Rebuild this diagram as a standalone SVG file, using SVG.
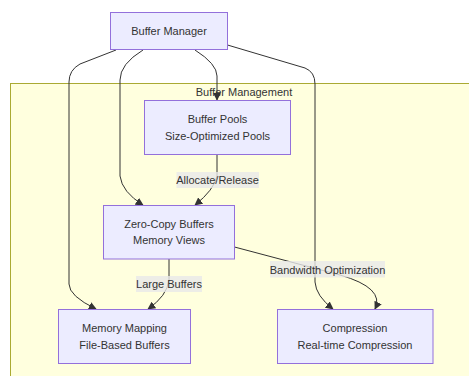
<svg xmlns="http://www.w3.org/2000/svg" width="469" height="376" viewBox="0 0 469 376">
<defs>
<style>
.node rect{fill:#ECECFF;stroke:#9370DB;stroke-width:1}
text{font-family:"Liberation Sans",Arial,sans-serif;font-size:11px;fill:#333;text-anchor:middle}
.edge{fill:none;stroke:#333;stroke-width:1;marker-end:url(#arr)}
.lbl{fill:#e8e8e8;fill-opacity:0.8}
</style>
<marker id="arr" viewBox="0 0 10 10" refX="9" refY="5" markerWidth="8" markerHeight="8" markerUnits="userSpaceOnUse" orient="auto">
<path d="M0,0 L10,5 L0,10 z" fill="#333"/>
</marker>
</defs>
<rect width="469" height="376" fill="#ffffff"/>
<g id="cluster">
<rect x="10.5" y="83.5" width="470" height="300" fill="#ffffde" stroke="#aaaa33" stroke-width="1"/>
<text x="244" y="96">Buffer Management</text>
</g>
<g id="connectors">
<path class="edge" d="M116,50 L80,64 Q69,70 69,82 L69,284 Q69,296 96,309"/>
<path class="edge" d="M143,50 Q120,64 120,80 L120,176 Q122,192 143,205"/>
<path class="edge" d="M195,50 Q217,64 217,76 L217,100"/>
<path class="edge" d="M227.5,45 L305,68 Q315,72 315,84 L315,282 Q316,296 333,309"/>
<path class="edge" d="M217,155 L217,176 Q214,190 195,205"/>
<path class="edge" d="M169,259 L169,280 Q167,296 148,309"/>
<path class="edge" d="M234.5,247 L340,275 Q385,288 375,309"/>
<rect class="lbl" x="176.5" y="172" width="82.5" height="16"/>
<text x="217.5" y="184">Allocate/Release</text>
<rect class="lbl" x="136" y="276" width="66" height="16"/>
<text x="169" y="288">Large Buffers</text>
<rect class="lbl" x="270" y="261" width="115" height="16.5"/>
<text x="327.5" y="273.5">Bandwidth Optimization</text>
</g>
<g id="buffer-manager" class="node">
<rect x="110.5" y="12.5" width="117" height="37"/>
<text x="169" y="35">Buffer Manager</text>
</g>
<g id="buffer-pools" class="node">
<rect x="144.5" y="100.5" width="146" height="54"/>
<text x="217.5" y="123">Buffer Pools</text>
<text x="217.5" y="139.5">Size-Optimized Pools</text>
</g>
<g id="zero-copy" class="node">
<rect x="103.5" y="205.5" width="131" height="53.5"/>
<text x="169" y="227.5">Zero-Copy Buffers</text>
<text x="169" y="244">Memory Views</text>
</g>
<g id="memory-mapping" class="node">
<rect x="58.5" y="309.5" width="132" height="54"/>
<text x="124.5" y="332">Memory Mapping</text>
<text x="124.5" y="348.5">File-Based Buffers</text>
</g>
<g id="compression" class="node">
<rect x="277.5" y="309.5" width="155.5" height="54"/>
<text x="355" y="332">Compression</text>
<text x="355" y="348.5">Real-time Compression</text>
</g>
</svg>
